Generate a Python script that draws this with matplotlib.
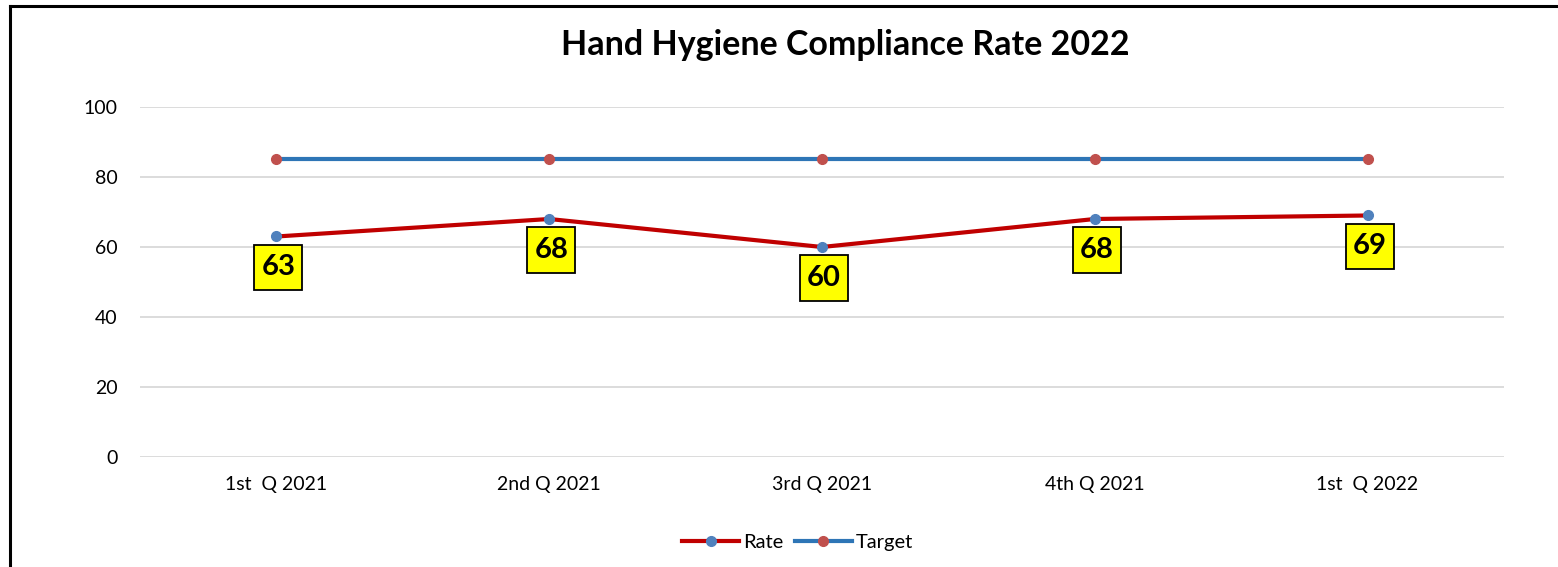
import matplotlib.pyplot as plt
from matplotlib.lines import Line2D
from matplotlib.path import Path

quarters = ['1st  Q 2021', '2nd Q 2021', '3rd Q 2021', '4th Q 2021', '1st  Q 2022']
rate = [63, 68, 60, 68, 69]
target = [85, 85, 85, 85, 85]

plt.rcParams['font.family'] = ['Lato', 'DejaVu Sans']


def label_box(x0, y0, width, height, mutation_size):
    # square box, more padding top/bottom than left/right
    px = 0.24 * mutation_size
    py = 0.34 * mutation_size
    l, b, r, t = x0 - px, y0 - py, x0 + width + px, y0 + height + py
    return Path([(l, b), (r, b), (r, t), (l, t), (l, b)], closed=True)


def main():
    fig = plt.figure(figsize=(15.58, 5.67), dpi=100)
    ax = fig.add_axes([0.0899, 0.194, 0.8754, 0.6173])

    x = range(len(quarters))
    ax.plot(x, rate, color='#C00000', lw=3, marker='o', ms=7,
            mfc='#4F81BD', mec='#4F81BD', label='Rate', zorder=3)
    ax.plot(x, target, color='#2E75B6', lw=3, marker='o', ms=7,
            mfc='#C0504D', mec='#C0504D', label='Target', zorder=3)

    # data labels under the rate points
    for i, v in enumerate(rate):
        ax.annotate(str(v), (i, v), xytext=(2, -31), textcoords='offset pixels',
                    ha='center', va='center', fontsize=21, fontweight='bold',
                    bbox=dict(boxstyle=label_box, fc='#FFFF00', ec='black', lw=1.3),
                    zorder=4)

    ax.set_xlim(-0.5, len(quarters) - 0.5)
    ax.set_ylim(0, 100)
    ax.set_yticks(range(0, 101, 20))
    ax.set_xticks(list(x), labels=quarters)
    ax.tick_params(axis='both', length=0, labelsize=14, colors='black')
    ax.tick_params(axis='y', pad=16)
    ax.tick_params(axis='x', pad=14)
    ax.grid(axis='y', color='#D9D9D9', lw=1.3)
    ax.set_axisbelow(True)
    for s in ax.spines.values():
        s.set_visible(False)

    fig.text(845 / 1558, 1 - 45 / 567, 'Hand Hygiene Compliance Rate 2022', ha='center', va='center',
             fontsize=24.5, fontweight='bold')

    fig.legend(loc='center', bbox_to_anchor=(0.512, 1 - 542 / 567), ncol=2, frameon=False,
               fontsize=14.5, handlelength=2.8, handletextpad=0.2, columnspacing=0.6)

    # chart area border (left and top visible)
    fig.add_artist(Line2D([10 / 1558, 10 / 1558], [0, 1 - 6 / 567], color='black', lw=2.2,
                          transform=fig.transFigure))
    fig.add_artist(Line2D([10 / 1558, 1], [1 - 6 / 567, 1 - 6 / 567], color='black', lw=2.2,
                          transform=fig.transFigure))

    fig.savefig('out.png', dpi=100)


if __name__ == "__main__":
    main()
